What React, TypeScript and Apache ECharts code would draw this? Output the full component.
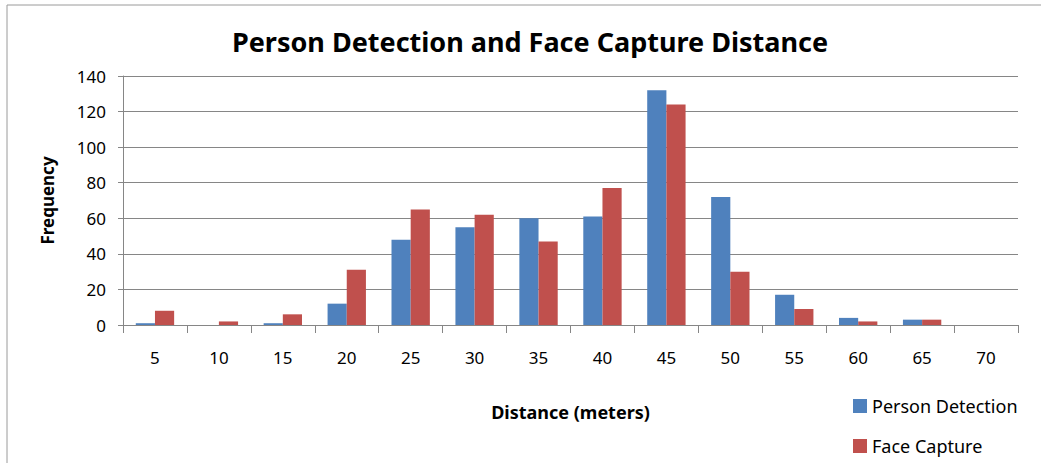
import React, { useEffect, useRef } from "react";
import * as echarts from "echarts";

const categories = ["5", "10", "15", "20", "25", "30", "35", "40", "45", "50", "55", "60", "65", "70"];
const personDetection = [1, 0, 1, 12, 48, 55, 60, 61, 132, 72, 17, 4, 3, 0];
const faceCapture = [8, 2, 6, 31, 65, 62, 47, 77, 124, 30, 9, 2, 3, 0];
const yTicks = { min: 0, max: 140, interval: 20 };

const FONT = "'Noto Sans', 'Liberation Sans', sans-serif";

export default function App() {
  const ref = useRef<HTMLDivElement>(null);
  useEffect(() => {
    if (!ref.current) return;
    const chart = echarts.init(ref.current, null, { renderer: "svg" });
    chart.setOption({
      animation: false,
      backgroundColor: "#ffffff",
      textStyle: { fontFamily: FONT },
      title: {
        text: "Person Detection and Face Capture Distance",
        left: 525,
        textAlign: "center",
        top: 23,
        textStyle: { fontFamily: FONT, fontSize: 27, fontWeight: "bold", color: "#000" },
      },
      graphic: [
        {
          type: "rect",
          shape: { x: 7, y: 5, width: 1100, height: 500 },
          style: { fill: "none", stroke: "#9a9a9a", lineWidth: 1 },
          silent: true,
        },
      ],
      legend: {
        orient: "vertical",
        left: 848,
        top: 392,
        itemWidth: 14,
        itemHeight: 14,
        itemGap: 22,
        icon: "rect",
        textStyle: { fontFamily: FONT, fontSize: 18, color: "#000" },
        data: ["Person Detection", "Face Capture"],
      },
      grid: { left: 123, right: 23, top: 76, bottom: 138, containLabel: false },
      xAxis: {
        type: "category",
        data: categories,
        name: "Distance (meters)",
        nameLocation: "middle",
        nameGap: 78,
        nameTextStyle: { fontFamily: FONT, fontSize: 18, fontWeight: "bold", color: "#000" },
        axisLine: { lineStyle: { color: "#868686" } },
        axisTick: { show: true, alignWithLabel: false, length: 8, lineStyle: { color: "#868686" } },
        axisLabel: { margin: 24, fontFamily: FONT, fontSize: 17, color: "#000" },
      },
      yAxis: {
        type: "value",
        min: yTicks.min,
        max: yTicks.max,
        interval: yTicks.interval,
        name: "Frequency",
        nameLocation: "middle",
        nameRotate: 90,
        nameGap: 67,
        nameTextStyle: { fontFamily: FONT, fontSize: 17, fontWeight: "bold", color: "#000" },
        axisLine: { show: true, lineStyle: { color: "#868686" } },
        axisTick: { show: true, length: 5, lineStyle: { color: "#868686" } },
        axisLabel: { margin: 17, fontFamily: FONT, fontSize: 17, color: "#000" },
        splitLine: { lineStyle: { color: "#868686" } },
      },
      series: [
        {
          name: "Person Detection",
          type: "bar",
          data: personDetection,
          itemStyle: { color: "#4F81BD" },
          barGap: "0%",
          barCategoryGap: "40%",
        },
        {
          name: "Face Capture",
          type: "bar",
          data: faceCapture,
          itemStyle: { color: "#C0504D" },
          barGap: "0%",
          barCategoryGap: "40%",
        },
      ],
    });
    return () => chart.dispose();
  }, []);
  return (
    <div
      ref={ref}
      style={{ position: "absolute", left: 0, top: 0, width: 1041, height: 463 }}
    />
  );
}
